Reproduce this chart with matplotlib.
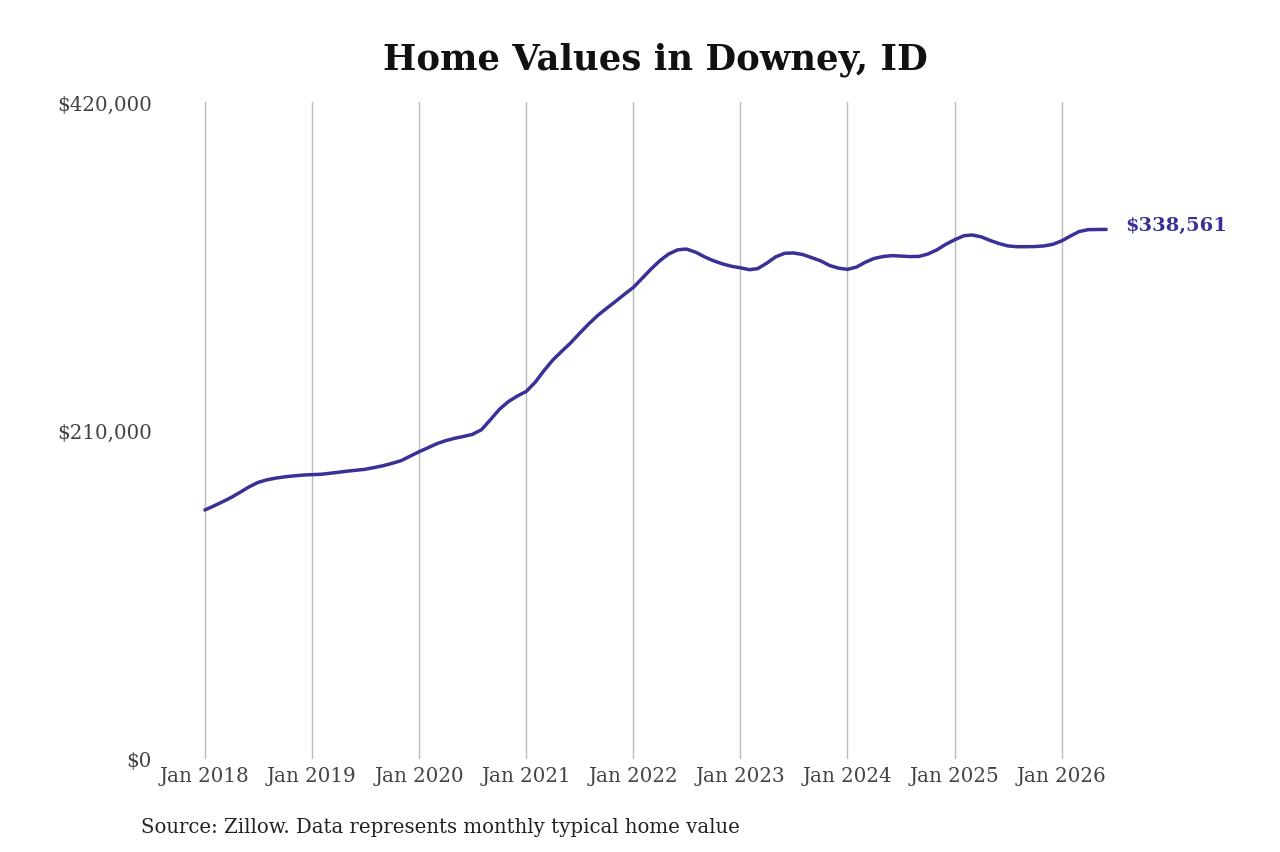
import matplotlib.pyplot as plt
import numpy as np

# Monthly typical home value, Jan 2018 - Jun 2026 (in $1,000s)
values_2018 = [159.2, 161.8, 164.3, 167.2, 170.5, 174.0, 176.8, 178.5, 179.6, 180.4, 181.0, 181.5]
values_2019 = [181.8, 182.0, 182.6, 183.3, 184.0, 184.6, 185.2, 186.3, 187.5, 189.0, 190.7, 193.5]
values_2020 = [196.4, 199.0, 201.5, 203.5, 205.0, 206.2, 207.5, 210.5, 217.0, 223.5, 228.5, 232.0]
values_2021 = [235.0, 241.0, 248.0, 255.0, 260.5, 266.0, 272.0, 278.0, 283.5, 288.0, 292.5, 297.0]
values_2022 = [301.5, 307.5, 313.0, 318.5, 322.8, 325.5, 326.0, 324.0, 321.0, 318.5, 316.5, 315.0]
values_2023 = [314.0, 312.8, 313.5, 317.0, 321.0, 323.3, 323.5, 322.5, 320.5, 318.5, 315.5, 313.8]
values_2024 = [313.0, 314.5, 317.5, 320.0, 321.2, 321.8, 321.5, 321.2, 321.3, 322.8, 325.5, 329.0]
values_2025 = [332.0, 334.5, 335.0, 333.8, 331.5, 329.5, 328.0, 327.5, 327.5, 327.6, 328.0, 329.0]
values_2026 = [331.3, 334.5, 337.2, 338.4, 338.5, 338.561]

values = np.array(values_2018 + values_2019 + values_2020 + values_2021 + values_2022
                  + values_2023 + values_2024 + values_2025 + values_2026) * 1000
dates = np.arange(np.datetime64('2018-01'), np.datetime64('2018-01') + len(values)).astype('datetime64[D]')

tick_years = list(range(2018, 2027))
tick_labels = [f"Jan {y}" for y in tick_years]
y_ticks = [0, 210000, 420000]
y_labels = ["$0", "$210,000", "$420,000"]
end_label = "$338,561"

line_color = '#3a3197'
plt.rcParams['font.family'] = ['DejaVu Serif']

fig = plt.figure(figsize=(12.8, 8.53), dpi=100)
W, H = 1280, 853
ax = fig.add_axes([160 / W, 1 - 760 / H, (1110 - 160) / W, (760 - 103) / H])

ax.plot(dates, values, color=line_color, lw=2.5, solid_capstyle='round',
        solid_joinstyle='round', zorder=3)

start = np.datetime64('2018-01-01')
ax.set_xlim(start - np.timedelta64(153, 'D'), start + np.timedelta64(3086, 'D'))
ax.set_ylim(0, 420000)

tick_dates = [np.datetime64(f"{y}-01-01") for y in tick_years]
ax.set_xticks(tick_dates)
ax.set_xticklabels(tick_labels)
ax.set_yticks(y_ticks)
ax.set_yticklabels(y_labels)
ax.tick_params(axis='x', length=0, pad=5, labelsize=14.3, labelcolor='#444444')
ax.tick_params(axis='y', length=0, pad=6, labelsize=14.3, labelcolor='#444444')
ax.grid(axis='x', color='#bbbbbb', lw=1)
ax.grid(axis='y', visible=False)
for s in ax.spines.values():
    s.set_visible(False)

ax.annotate(end_label, xy=(dates[-1], values[-1]), xytext=(14, 3),
            textcoords='offset points', ha='left', va='center',
            fontsize=14, fontweight='bold', color=line_color)

fig.text(655 / W, 1 - 60 / H, "Home Values in Downey, ID", ha='center', va='center',
         fontsize=25.5, fontweight='bold', color='#111111')
fig.text(141 / W, 1 - 828 / H, "Source: Zillow. Data represents monthly typical home value",
         ha='left', va='center', fontsize=14.2, color='#222222')

fig.savefig('out.png', dpi=100)
